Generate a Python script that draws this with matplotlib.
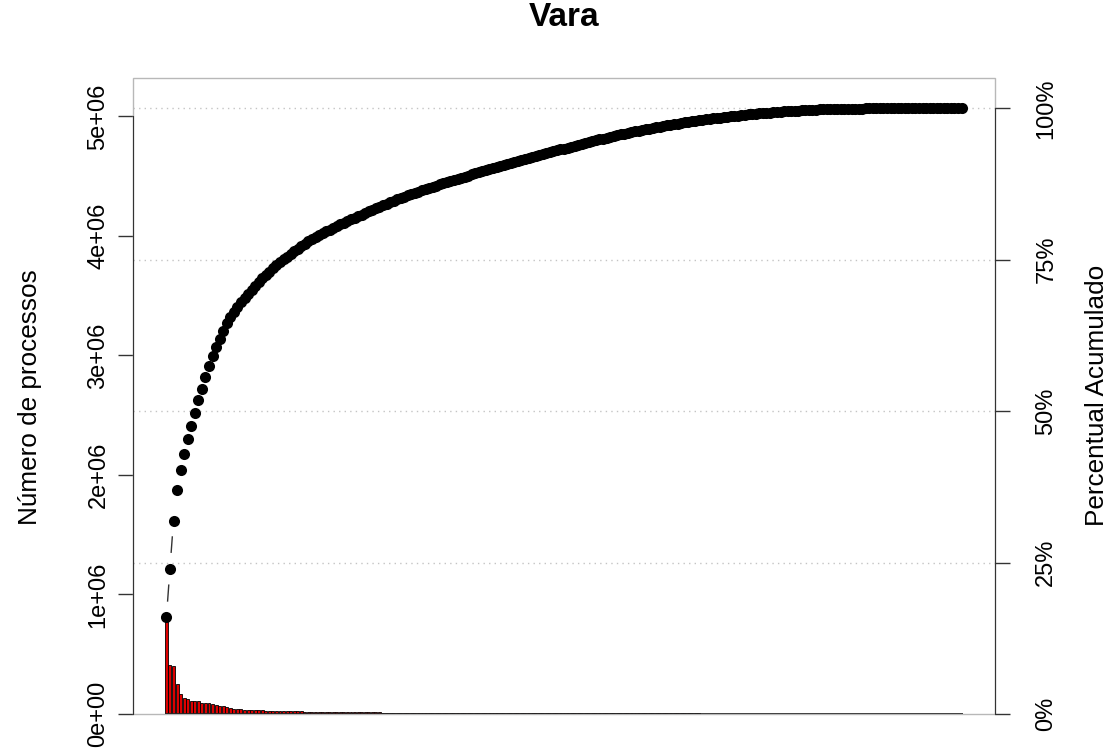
import numpy as np
import matplotlib.pyplot as plt
from matplotlib.patches import Rectangle

plt.rcParams['font.family'] = ['Liberation Sans', 'DejaVu Sans']

# processos por vara, em milhares, ordenados do maior para o menor
processos_mil = [
    808, 408, 403, 254, 168, 131, 127, 111, 109, 107, 95, 95, 93,
    84, 77, 71, 67, 62,
    50, 45, 41, 38, 36,
    35, 34, 33, 32, 31,
    29, 28, 27, 26, 25, 24, 23, 23, 22, 22, 21, 20, 20, 19,
    17.0, 16.5, 16.0, 15.5, 15.0, 15.0, 14.5, 14.0, 14.0,
    13.8, 13.7, 13.6, 13.5, 13.4, 13.3, 13.2, 13.1, 13.0, 12.9,
    12.5, 12.2, 12.0, 11.8, 11.7, 11.5, 11.3, 11.2, 11.0,
    10.8, 10.6, 10.4, 10.2, 10.0, 9.9, 9.8, 9.7, 9.6, 9.5,
    9.4, 9.3, 9.2, 9.1, 9.0, 8.9, 8.9, 8.8, 8.8, 8.7, 8.7, 8.6,
    8.6, 8.6, 8.5, 8.5, 8.5, 8.4, 8.4, 8.4, 8.3, 8.3, 8.3, 8.2, 8.2,
    8.2, 8.1, 8.1, 8.1, 8.0, 8.0, 8.0, 7.9, 7.9, 7.9, 7.8, 7.8,
    7.7, 7.6, 7.6, 7.5, 7.4, 7.3, 7.2, 7.1, 7.0, 6.9, 6.8, 6.7, 6.6, 6.5,
    6.4, 6.2, 6.0, 5.9, 5.8, 5.7, 5.6, 5.5, 5.4, 5.2, 5.1, 5.0, 4.9, 4.8, 4.7,
    4.6, 4.5, 4.4, 4.3, 4.2, 4.1, 4.0, 3.9, 3.8, 3.7, 3.6, 3.5, 3.5, 3.4,
    3.3, 3.2, 3.2, 3.1, 3.0, 2.9, 2.8, 2.7, 2.7, 2.6, 2.5, 2.4, 2.4, 2.3,
    2.2, 2.1, 2.0, 1.9, 1.8, 1.7, 1.6, 1.5, 1.4, 1.3, 1.2, 1.1, 1.0, 0.9,
    0.8, 0.7, 0.6, 0.6, 0.5, 0.5, 0.4, 0.4, 0.3, 0.3, 0.2, 0.2, 0.2, 0.1,
    0.1, 0.1, 0.1, 0.1, 0.1, 0.08, 0.07, 0.06, 0.05, 0.05, 0.04, 0.04,
    0.03, 0.03, 0.02, 0.02, 0.02, 0.01, 0.01, 0.01, 0.005, 0.003, 0.001,
]

y_ticks = [0, 1e6, 2e6, 3e6, 4e6, 5e6]
y_labels = ['0e+00', '1e+06', '2e+06', '3e+06', '4e+06', '5e+06']
pct_ticks = [0, 0.25, 0.5, 0.75, 1.0]
pct_labels = ['0%', '25%', '50%', '75%', '100%']

processos = np.array(processos_mil) * 1000
n = len(processos)
acumulado = np.cumsum(processos)
total = acumulado[-1]

# barras com largura 1 e espaço 0.2, como no barplot do R
pos = 0.7 + 1.2 * np.arange(n)
x0, x1 = 0.2, 1.2 * n
ext = 0.04 * (x1 - x0)

W, H = 1110, 753
fig = plt.figure(figsize=(W / 100, H / 100), dpi=100)
ax = fig.add_axes([133 / W, 39 / H, 862 / W, 636 / H])
ax.set_xlim(x0 - ext, x1 + ext)
ax.set_ylim(0, 1.05 * total)

for p in pct_ticks[1:]:
    ax.axhline(total * p, color='#c4c4c4', lw=1, linestyle=(0, (1, 3)), zorder=1)

ax.bar(pos, processos, width=1.0, color='#dd0000', edgecolor='black',
       linewidth=0.6, zorder=2)
# base das barras (as muito baixas somem na renderização)
ax.hlines(0, pos[0] - 0.5, pos[-1] + 0.5, color='#222222', lw=1.2, zorder=3)

# moldura cinza do gráfico
ax.add_patch(Rectangle((0, 0), 1, 1, transform=ax.transAxes, fill=False,
                       edgecolor='#b8b8b8', lw=1, zorder=2.5, clip_on=False))
for s in ax.spines.values():
    s.set_visible(False)

# curva acumulada: pontos com linha interrompida perto de cada ponto
ax.scatter(pos, acumulado, s=8.0 ** 2, color='black', linewidths=0,
           zorder=5, clip_on=False)
pts = ax.transData.transform(np.column_stack([pos, acumulado]))
inv = ax.transData.inverted()
gap = 16.5
for p, q in zip(pts[:-1], pts[1:]):
    d = np.hypot(*(q - p))
    if d > 2 * gap:
        a = p + (q - p) * gap / d
        b = q - (q - p) * gap / d
        seg = inv.transform([a, b])
        ax.plot(seg[:, 0], seg[:, 1], color='#333333', lw=1, zorder=4)

ax.spines['left'].set_visible(True)
ax.spines['left'].set_bounds(y_ticks[0], y_ticks[-1])
ax.spines['left'].set_color('#333333')
ax.set_xticks([])
ax.set_yticks(y_ticks)
ax.set_yticklabels(y_labels, rotation=90, va='center')
ax.tick_params(axis='y', direction='out', length=11, width=1, pad=6,
               labelsize=17, color='#333333')

ax2 = ax.twinx()
ax2.set_ylim(ax.get_ylim())
for s in ax2.spines.values():
    s.set_visible(False)
ax2.spines['right'].set_visible(True)
ax2.spines['right'].set_bounds(0, total)
ax2.spines['right'].set_color('#333333')
ax2.set_yticks([total * p for p in pct_ticks])
ax2.set_yticklabels(pct_labels, rotation=90, va='center')
ax2.tick_params(axis='y', direction='out', length=11, width=1, pad=18,
                labelsize=17, color='#333333')

fig.text(30 / W, 1 - 397 / H, 'Número de processos', rotation=90,
         ha='center', va='center', fontsize=18.8)
fig.text(1097 / W, 1 - 395 / H, 'Percentual Acumulado', rotation=90,
         ha='center', va='center', fontsize=18.8)
fig.text(564 / W, 1 - 18 / H, 'Vara', ha='center', va='center',
         fontsize=24, fontweight='bold')

fig.savefig('out.png', dpi=100)
